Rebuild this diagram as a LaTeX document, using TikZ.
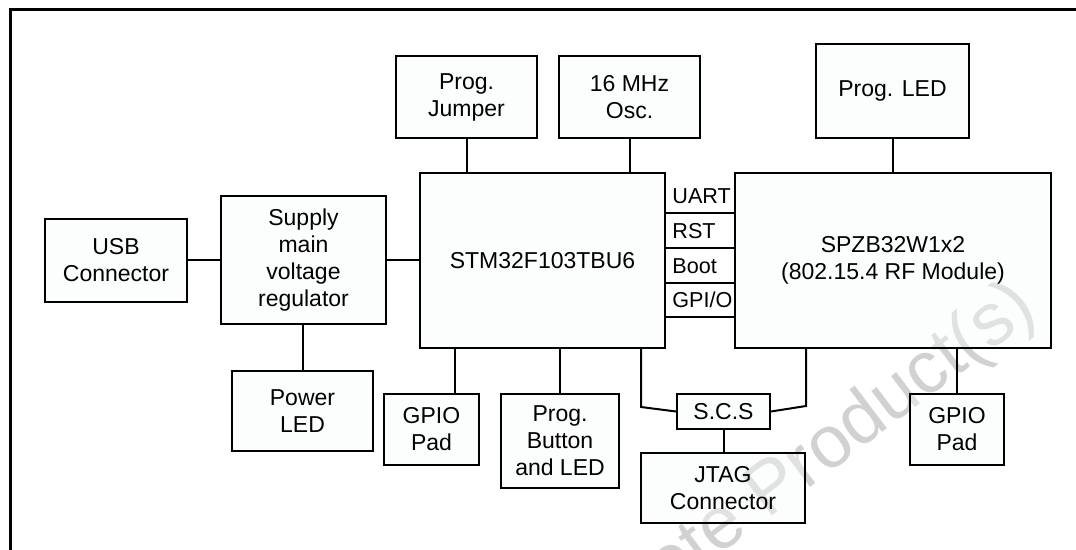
\documentclass[tikz,border=0pt]{standalone}
\usepackage{fontspec}
\setmainfont{Liberation Sans}
\usetikzlibrary{calc}
\definecolor{boxfill}{RGB}{248,249,249}

\begin{document}
\begin{tikzpicture}[
  x=0.5pt, y=-0.5pt,
  blk/.style={rectangle, draw, line width=1pt, fill=boxfill, fill opacity=0.4,
    text opacity=1, align=center, inner sep=0pt, font=\fontsize{11.5}{13.5}\selectfont},
  sig/.style={anchor=base west, inner sep=0pt, font=\fontsize{10.8}{12}\selectfont},
  wire/.style={line width=1pt}
]
\useasboundingbox (0,0) rectangle (1076,550);
\clip (0,0) rectangle (1076,550);

% watermark
\node[rotate=37, anchor=base east, inner sep=0pt, text=black!18,
  font=\fontsize{37}{37}\selectfont] (wm) at (1040,314) {Obsolete Product(s)};

\draw[line width=1.5pt] (1076,10) -- (10,10) -- (10,550);

\node[blk, minimum width=71pt, minimum height=41.5pt] (usb) at (116,260.5) {USB\\Connector};
\node[blk, minimum width=82.5pt, minimum height=64pt] (supply) at (303.5,260) {Supply\\main\\voltage\\regulator};
\node[blk, minimum width=70.5pt, minimum height=40pt] (pled) at (302.5,411) {Power\\LED};
\node[blk, minimum width=70.5pt, minimum height=41pt] (jumper) at (466.5,97) {Prog.\\Jumper};
\node[blk, minimum width=70.5pt, minimum height=41pt] (osc) at (629.5,97) {16 MHz\\Osc.};
\node[blk, minimum width=122.5pt, minimum height=87.5pt] (stm) at (542.5,260.5) {STM32F103TBU6};
\node[blk, minimum width=158pt, minimum height=87.5pt] (spzb) at (893,260.5) {SPZB32W1x2\\(802.15.4 RF Module)};
\node[blk, minimum width=76.5pt, minimum height=47pt] (progled) at (892.5,91) {Prog. LED};
\node[blk, minimum width=47.5pt, minimum height=35.5pt] (gpioa) at (431.5,429.5) {GPIO\\Pad};
\node[blk, minimum width=59pt, minimum height=47pt] (button) at (560,441) {Prog.\\Button\\and LED};
\node[blk, minimum width=46.5pt, minimum height=17.5pt] (scs) at (723.5,411.5) {S.C.S};
\node[blk, minimum width=82pt, minimum height=35pt] (jtag) at (723,488) {JTAG\\Connector};
\node[blk, minimum width=47pt, minimum height=35.5pt] (gpiob) at (957,429.5) {GPIO\\Pad};

% signal strip between the two chips
\foreach \lab/\yy [count=\i] in {UART/213,RST/248,Boot/283,{GPI/O}/317} {
  \draw[wire] (stm.east |- 0,\yy) -- (spzb.west |- 0,\yy);
  \node[sig] (sig\i) at ($(stm.east |- 0,\yy)+(6,-9)$) {\lab};
}

\coordinate (gtap) at ($(gpioa.north)+(23.5,0)$);
\coordinate (sl) at ($(scs.west)+(-35,-4.5)$);
\coordinate (sr) at ($(scs.east)+(35,-5.5)$);

\draw[wire] (usb.east) -- (usb.east -| supply.west);
\draw[wire] (supply.east) -- (supply.east -| stm.west);
\draw[wire] (pled.north) -- (pled.north |- supply.south);
\draw[wire] (jumper.south) -- (jumper.south |- stm.north);
\draw[wire] (osc.south) -- (osc.south |- stm.north);
\draw[wire] (progled.south) -- (progled.south |- spzb.north);
\draw[wire] (gtap) -- (gtap |- stm.south);
\draw[wire] (button.north) -- (button.north |- stm.south);
\draw[wire] (gpiob.north) -- (gpiob.north |- spzb.south);
\draw[wire] (stm.south -| sl) -- (sl) -- (scs.west);
\draw[wire] (spzb.south -| sr) -- (sr) -- (scs.east);
\draw[wire] (scs.south) -- (scs.south |- jtag.north);
\end{tikzpicture}
\end{document}
